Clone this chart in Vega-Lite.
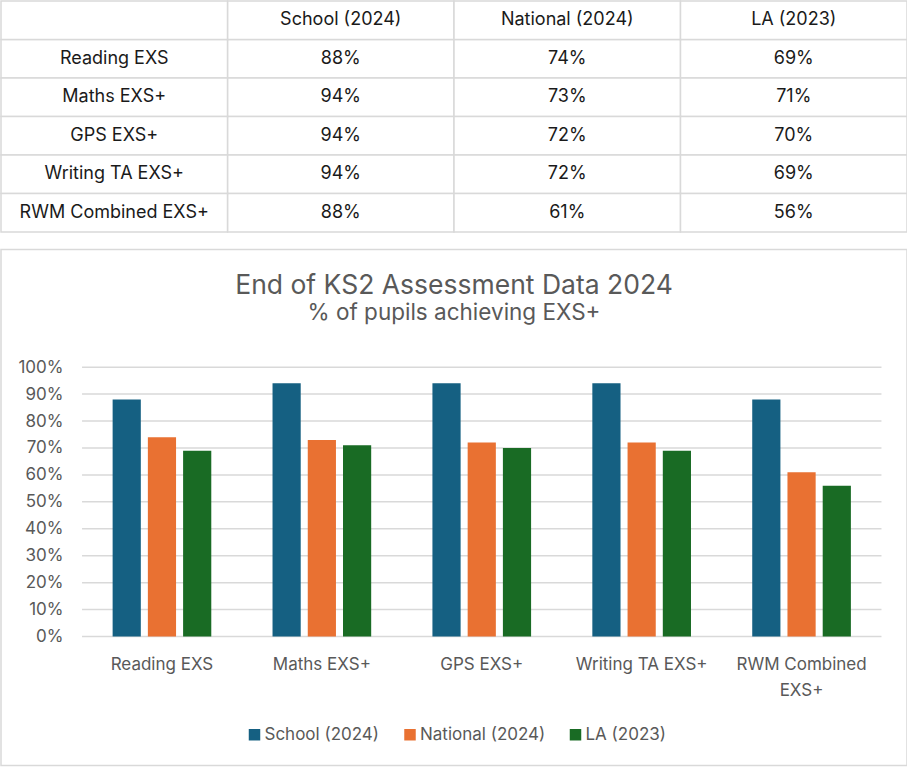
{
  "$schema": "https://vega.github.io/schema/vega-lite/v6.json",
  "padding": 0,
  "background": "white",
  "spacing": 15.5,
  "config": {"font": "Inter", "view": {"stroke": null}},
  "datasets": {
    "scores": [
      {"category": "Reading EXS", "series": "School (2024)", "value": 0.88},
      {"category": "Reading EXS", "series": "National (2024)", "value": 0.74},
      {"category": "Reading EXS", "series": "LA (2023)", "value": 0.69},
      {"category": "Maths EXS+", "series": "School (2024)", "value": 0.94},
      {"category": "Maths EXS+", "series": "National (2024)", "value": 0.73},
      {"category": "Maths EXS+", "series": "LA (2023)", "value": 0.71},
      {"category": "GPS EXS+", "series": "School (2024)", "value": 0.94},
      {"category": "GPS EXS+", "series": "National (2024)", "value": 0.72},
      {"category": "GPS EXS+", "series": "LA (2023)", "value": 0.70},
      {"category": "Writing TA EXS+", "series": "School (2024)", "value": 0.94},
      {"category": "Writing TA EXS+", "series": "National (2024)", "value": 0.72},
      {"category": "Writing TA EXS+", "series": "LA (2023)", "value": 0.69},
      {"category": "RWM Combined EXS+", "series": "School (2024)", "value": 0.88},
      {"category": "RWM Combined EXS+", "series": "National (2024)", "value": 0.61},
      {"category": "RWM Combined EXS+", "series": "LA (2023)", "value": 0.56}
    ],
    "gridlines": [
      {"tick": 0}, {"tick": 0.1}, {"tick": 0.2}, {"tick": 0.3}, {"tick": 0.4}, {"tick": 0.5},
      {"tick": 0.6}, {"tick": 0.7}, {"tick": 0.8}, {"tick": 0.9}, {"tick": 1}
    ]
  },
  "vconcat": [
    {
      "width": 906,
      "height": 231,
      "view": {"stroke": null},
      "data": {"name": "scores"},
      "layer": [
        {
          "encoding": {
            "x": {"field": "series", "type": "nominal", "axis": null,
              "scale": {"domain": ["label", "School (2024)", "National (2024)", "LA (2023)"], "paddingInner": 0, "paddingOuter": 0}},
            "y": {"field": "category", "type": "nominal", "axis": null,
              "scale": {"domain": ["header", "Reading EXS", "Maths EXS+", "GPS EXS+", "Writing TA EXS+", "RWM Combined EXS+"], "paddingInner": 0, "paddingOuter": 0}}
          },
          "layer": [
            {"mark": {"type": "rect", "fill": "white", "stroke": "#d9d9d9", "strokeWidth": 1.5}},
            {"mark": {"type": "text", "fontSize": 18, "color": "#1a1a1a", "baseline": "middle", "align": "center"},
              "encoding": {"text": {"field": "value", "type": "quantitative", "format": ".0%"}}}
          ]
        },
        {
          "transform": [{"filter": "datum.series === 'School (2024)'"}],
          "encoding": {
            "x": {"datum": "label", "type": "nominal", "axis": null},
            "y": {"field": "category", "type": "nominal", "axis": null}
          },
          "layer": [
            {"mark": {"type": "rect", "fill": "white", "stroke": "#d9d9d9", "strokeWidth": 1.5}},
            {"mark": {"type": "text", "fontSize": 18, "color": "#1a1a1a", "baseline": "middle", "align": "center"},
              "encoding": {"text": {"field": "category", "type": "nominal"}}}
          ]
        },
        {
          "transform": [{"filter": "datum.category === 'Reading EXS'"}],
          "encoding": {
            "x": {"field": "series", "type": "nominal", "axis": null},
            "y": {"datum": "header", "type": "nominal", "axis": null}
          },
          "layer": [
            {"mark": {"type": "rect", "fill": "white", "stroke": "#d9d9d9", "strokeWidth": 1.5}},
            {"mark": {"type": "text", "fontSize": 18, "color": "#1a1a1a", "baseline": "middle", "align": "center"},
              "encoding": {"text": {"field": "series", "type": "nominal"}}}
          ]
        },
        {
          "transform": [{"filter": "datum.category === 'Reading EXS' && datum.series === 'School (2024)'"}],
          "mark": {"type": "rect", "fill": "white", "stroke": "#d9d9d9", "strokeWidth": 1.5},
          "encoding": {
            "x": {"datum": "label", "type": "nominal", "axis": null},
            "y": {"datum": "header", "type": "nominal", "axis": null}
          }
        }
      ]
    },
    {
      "width": 906,
      "height": 516,
      "view": {"stroke": "#d9d9d9", "strokeWidth": 1.5},
      "title": {
        "text": "End of KS2 Assessment Data 2024",
        "subtitle": "% of pupils achieving EXS+",
        "anchor": "middle",
        "offset": -75,
        "font": "Inter",
        "subtitleFont": "Inter",
        "fontSize": 26.5,
        "subtitleFontSize": 22.5,
        "fontWeight": "normal",
        "color": "#595959",
        "subtitleColor": "#595959",
        "subtitlePadding": 3
      },
      "layer": [
        {
          "data": {"name": "gridlines"},
          "mark": {"type": "rule", "color": "#d9d9d9", "strokeWidth": 1.5},
          "encoding": {
            "y": {"field": "tick", "type": "quantitative",
              "scale": {"domain": [-0.479, 1.437], "nice": false, "zero": false},
              "axis": {"title": null, "values": [0, 0.1, 0.2, 0.3, 0.4, 0.5, 0.6, 0.7, 0.8, 0.9, 1], "format": ".0%",
                "grid": false, "domain": false, "ticks": false, "offset": -81, "labelPadding": 19,
                "labelFontSize": 17, "labelColor": "#595959"}},
            "x": {"datum": "Reading EXS", "type": "nominal", "bandPosition": -0.31,
              "scale": {"domain": ["Reading EXS", "Maths EXS+", "GPS EXS+", "Writing TA EXS+", "RWM Combined EXS+"], "paddingInner": 0.383, "paddingOuter": 0.5245, "align": 0.6655},
              "axis": {"title": null, "orient": "bottom", "offset": -129, "domain": false, "ticks": false, "labelAngle": 0,
                "labelPadding": 19.5, "labelFontSize": 17, "labelColor": "#595959", "labelLineHeight": 26, "labelLimit": 300,
                "labelExpr": "datum.label == 'RWM Combined EXS+' ? ['RWM Combined', 'EXS+'] : datum.label"}},
            "x2": {"datum": "RWM Combined EXS+", "bandPosition": 1.31}
          }
        },
        {
          "data": {"name": "scores"},
          "mark": {"type": "bar"},
          "encoding": {
            "x": {"field": "category", "type": "nominal", "sort": null,
              "scale": {"domain": ["Reading EXS", "Maths EXS+", "GPS EXS+", "Writing TA EXS+", "RWM Combined EXS+"], "paddingInner": 0.383, "paddingOuter": 0.5245, "align": 0.6655},
              "axis": {"title": null, "orient": "bottom", "offset": -129, "domain": false, "ticks": false, "labelAngle": 0,
                "labelPadding": 19.5, "labelFontSize": 17, "labelColor": "#595959", "labelLineHeight": 26, "labelLimit": 300,
                "labelExpr": "datum.label == 'RWM Combined EXS+' ? ['RWM Combined', 'EXS+'] : datum.label"}},
            "xOffset": {"field": "series", "type": "nominal", "sort": null,
              "scale": {"domain": ["School (2024)", "National (2024)", "LA (2023)"], "paddingInner": 0.2, "paddingOuter": 0}},
            "y": {"field": "value", "type": "quantitative", "stack": null,
              "scale": {"domain": [-0.479, 1.437], "nice": false, "zero": false},
              "axis": {"title": null, "values": [0, 0.1, 0.2, 0.3, 0.4, 0.5, 0.6, 0.7, 0.8, 0.9, 1], "format": ".0%",
                "grid": false, "domain": false, "ticks": false, "offset": -81, "labelPadding": 19,
                "labelFontSize": 17, "labelColor": "#595959"}},
            "color": {"field": "series", "type": "nominal", "sort": null,
              "scale": {"domain": ["School (2024)", "National (2024)", "LA (2023)"], "range": ["#156082", "#E97132", "#196B24"]},
              "legend": {"orient": "none", "legendX": 245, "legendY": 725, "direction": "horizontal", "title": null,
                "symbolType": "square", "symbolSize": 132, "labelFontSize": 17, "labelColor": "#595959",
                "columnPadding": 21.5, "labelOffset": 1.5}}
          }
        }
      ]
    }
  ]
}
